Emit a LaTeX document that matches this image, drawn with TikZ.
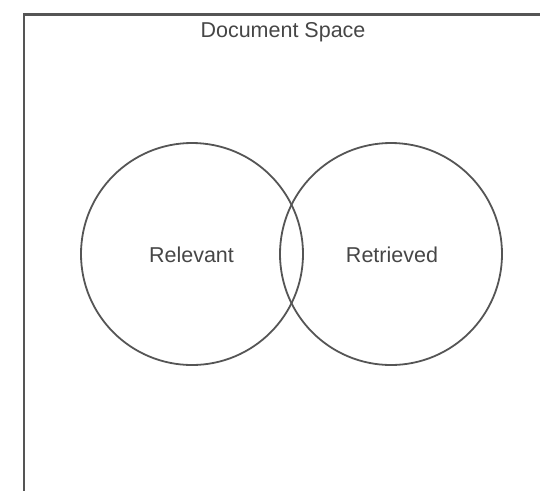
\documentclass[tikz,border=0pt]{standalone}
\usepackage{fontspec}
\setmainfont{Liberation Sans}
\definecolor{ink}{RGB}{85,85,85}
\definecolor{txt}{RGB}{70,70,70}
\begin{document}
\begin{tikzpicture}[x=1pt,y=-1pt,
  frame/.style={draw=ink,line width=2.2pt},
  setcircle/.style={draw=ink,line width=1.8pt,circle,minimum size=222pt,inner sep=0pt},
  lbl/.style={text=txt,font=\fontsize{21.5}{26}\selectfont}]
\useasboundingbox (0,0) rectangle (540,491);
\coordinate (tl) at (24,14.5);
\coordinate (tr) at (540,14.5);
\coordinate (bl) at (24,491);
\draw[frame] (tr) -- (tl) -- (bl);
\node[lbl] (title) at (283,32) {Document Space};
\node[setcircle] (rel) at (192,254) {};
\node[setcircle] (ret) at (391,254) {};
\node[lbl] (relt) at (191.5,255) {Relevant};
\node[lbl] (rett) at (392,255) {Retrieved};
\end{tikzpicture}
\end{document}
